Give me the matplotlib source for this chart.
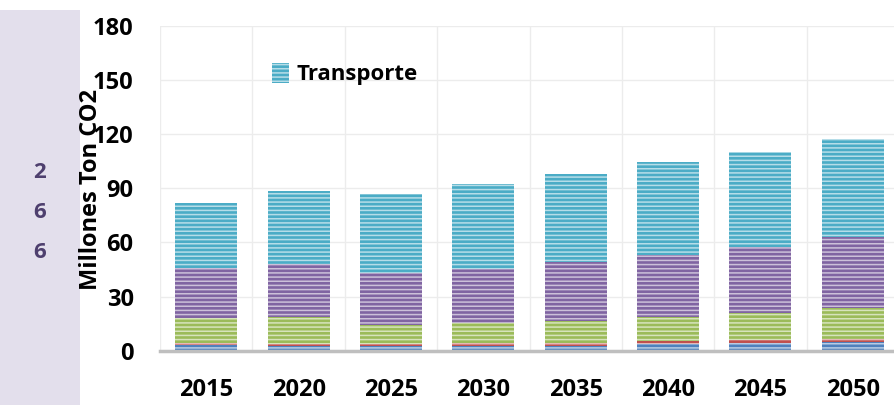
import numpy as np
import matplotlib
matplotlib.use("Agg")
import matplotlib.pyplot as plt

plt.rcParams['font.family'] = ['Open Sans', 'DejaVu Sans']
plt.rcParams['hatch.linewidth'] = 1.1

years = ['2015', '2020', '2025', '2030', '2035', '2040', '2045', '2050']
otros = [2.9, 2.5, 2.3, 2.5, 2.7, 3.6, 4.3, 4.7]
residuos = [1.1, 1.1, 1.1, 1.5, 1.6, 1.7, 1.5, 1.9]
agricultura = [13.9, 15.2, 10.6, 11.1, 12.3, 13.5, 15.2, 16.8]
industria = [28.1, 29.3, 28.9, 30.0, 32.7, 34.3, 36.7, 39.8]
transporte = [35.9, 40.7, 43.9, 47.2, 48.8, 51.8, 52.6, 54.1]
y_ticks = [0, 30, 60, 90, 120, 150, 180]
side_nums = ['2', '6', '6']

series = [otros, residuos, agricultura, industria, transporte]
colors = ['#4f81bd', '#c0504d', '#9bbb59', '#8064a2', '#4bacc6']

fig = plt.figure(figsize=(8.94, 4.05), dpi=100)
fig.patch.set_facecolor('white')

# lavender strip on the left
fig.patches.append(plt.Rectangle((0, 0), 80 / 894, 395 / 405, transform=fig.transFigure,
                                 facecolor='#e3dfec', edgecolor='none', zorder=0))
for i, s in enumerate(side_nums):
    fig.text(40 / 894, 1 - (173 + 40 * i) / 405, s, ha='center', va='center',
             fontsize=16, fontweight='bold', color='#4e3f6e')

ax = fig.add_axes([160 / 894, 54.5 / 405, 739 / 894, 324 / 405])
ax.set_facecolor('none')
x = np.arange(len(years))
bottom = np.zeros(len(years))
bars = []
for vals, c in zip(series, colors):
    b = ax.bar(x, vals, 0.67, bottom=bottom, color=c, edgecolor=(1, 1, 1, 0.6),
               linewidth=0, hatch='----', zorder=3)
    bars.append(b)
    bottom += np.array(vals)

ax.set_xlim(-0.5, len(years) - 0.5)
ax.set_ylim(0, 180)
ax.set_yticks(y_ticks)
ax.set_xticks(x)
ax.set_xticklabels(years)
ax.set_xticks(np.arange(-0.5, len(years)), minor=True)
ax.grid(axis='y', color='#ececec', lw=1, zorder=0)
ax.grid(axis='x', which='minor', color='#ececec', lw=1, zorder=0)
ax.tick_params(which='both', length=0)
ax.tick_params(axis='y', pad=19, labelsize=17)
ax.tick_params(axis='x', pad=20, labelsize=17)
for lbl in ax.get_xticklabels() + ax.get_yticklabels():
    lbl.set_fontweight('bold')
for side in ['top', 'right', 'left']:
    ax.spines[side].set_visible(False)
ax.spines['bottom'].set_color('#bfbfbf')
ax.spines['bottom'].set_linewidth(2.5)
ax.spines['bottom'].set_zorder(4)

fig.text(91 / 894, 1 - 189 / 405, 'Millones Ton CO2', rotation=90, ha='center', va='center',
         fontsize=17, fontweight='bold')

ax.legend([bars[-1]], ['Transporte'], loc='upper left', bbox_to_anchor=(0.125, 0.95),
          frameon=False, prop={'weight': 'bold', 'size': 16}, handlelength=0.75,
          handleheight=1.0, handletextpad=0.35)

fig.savefig('out.png', dpi=100)
